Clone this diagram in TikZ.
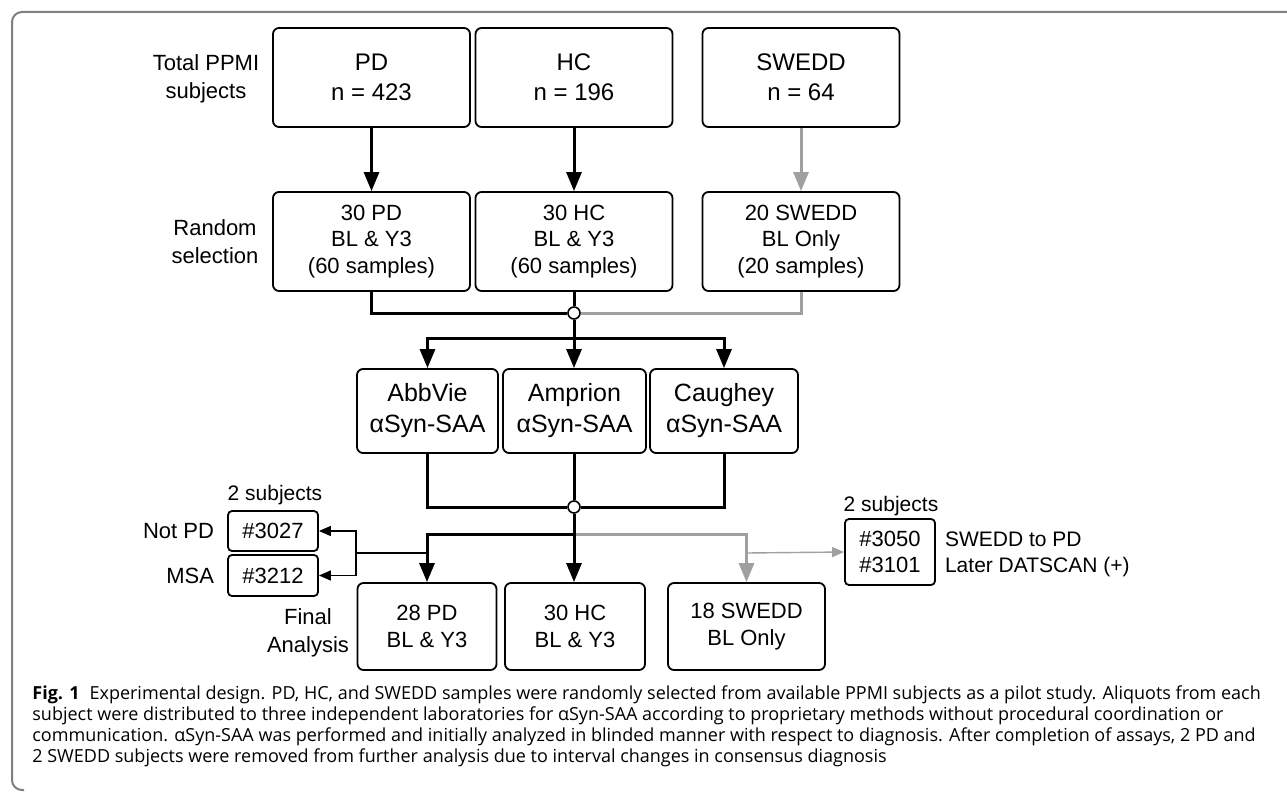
\documentclass[tikz,border=0pt]{standalone}
\usepackage{fontspec}
\setmainfont{Liberation Sans}
\newfontfamily\capfont{Open Sans}
\usepackage{tikz}
\usetikzlibrary{arrows.meta}
\definecolor{linegray}{HTML}{A0A0A0}
\definecolor{framegray}{HTML}{7F7F7F}
\tikzset{
  box/.style={draw, rounded corners=3pt, line width=0.9pt, align=center, inner sep=0pt},
  topbox/.style={box, minimum width=98.5pt, minimum height=49.5pt,
    font=\fontsize{12pt}{15pt}\selectfont},
  selbox/.style={box, minimum width=98.5pt, minimum height=49.5pt,
    font=\fontsize{11pt}{13.3pt}\selectfont},
  labbox/.style={box, minimum height=42pt, font=\fontsize{12.5pt}{15.5pt}\selectfont},
  finbox/.style={box, minimum height=43.5pt, font=\fontsize{11pt}{13.5pt}\selectfont},
  idbox/.style={box, rounded corners=2pt, minimum width=45pt, font=\fontsize{11pt}{13pt}\selectfont},
  side/.style={align=center, font=\fontsize{11pt}{14pt}\selectfont},
  junction/.style={circle, draw, fill=white, line width=0.8pt, inner sep=0pt, minimum size=6pt},
  main/.style={line width=1.5pt},
  mainarrow/.style={main, -{Triangle[length=9.5pt,width=7.5pt]}},
  thin/.style={line width=0.7pt},
  thinarrow/.style={thin, -{Triangle[length=6pt,width=5pt]}}
}
\begin{document}
\begin{tikzpicture}[x=0.5pt, y=-0.5pt]
  \useasboundingbox (0,0) rectangle (1287,792);
  % frame round figure and caption
  \draw[framegray, line width=1pt, rounded corners=5pt]
    (1287,12) -- (12,12) -- (12,790) -- (24,790);

  % Total subjects
  \node[topbox] (pd) at (371.5,77.5) {PD\\n = 423};
  \node[topbox] (hc) at (574,77.5) {HC\\n = 196};
  \node[topbox] (swedd) at (801,77.5) {SWEDD\\n = 64};
  \node[side] (total) at (206,79) {Total PPMI\\subjects};

  % Random selection
  \node[selbox] (pdsel) at (371.5,241.5) {30 PD\\BL \& Y3\\(60 samples)};
  \node[selbox] (hcsel) at (574,241.5) {30 HC\\BL \& Y3\\(60 samples)};
  \node[selbox] (sweddsel) at (801,241.5) {20 SWEDD\\BL Only\\(20 samples)};
  \node[side] (random) at (215,241.5) {Random\\selection};

  \draw[mainarrow] (pd) -- (pdsel);
  \draw[mainarrow] (hc) -- (hcsel);
  \draw[mainarrow, linegray] (swedd) -- (sweddsel);

  % pooling of the samples
  \node[junction] (j1) at (574,313) {};
  \draw[main, linegray] (sweddsel.south) |- (j1.east);
  \draw[main] (pdsel.south) |- (j1.west);
  \draw[main] (hcsel.south) -- (j1.north);

  % Laboratories
  \node[labbox, minimum width=70.5pt] (abbvie) at (427.5,411) {AbbVie\\αSyn-SAA};
  \node[labbox, minimum width=71.5pt] (amprion) at (574.5,411) {Amprion\\αSyn-SAA};
  \node[labbox, minimum width=74pt] (caughey) at (724,411) {Caughey\\αSyn-SAA};

  \coordinate (split1) at (574,338);
  \draw[main] (j1.south) -- (split1);
  \draw[mainarrow] (split1) -| (abbvie.north);
  \draw[mainarrow] (split1) -| (caughey.north);
  \draw[mainarrow] (split1) -- (split1 |- amprion.north);

  \node[junction] (j2) at (574,507) {};
  \draw[main] (abbvie.south) |- (j2.west);
  \draw[main] (caughey.south) |- (j2.east);
  \draw[main] (amprion.south -| j2) -- (j2.north);

  % Final analysis
  \node[finbox, minimum width=69.5pt] (pdfin) at (427,626.5) {28 PD\\BL \& Y3};
  \node[finbox, minimum width=70pt] (hcfin) at (575,626.5) {30 HC\\BL \& Y3};
  \node[finbox, minimum width=78.5pt] (sweddfin) at (746.5,626.5) {18 SWEDD\\BL Only};
  \node[side] (final) at (308,633) {Final\\Analysis};

  \coordinate (split2) at (574,534);
  \draw[mainarrow, linegray] (split2) -| (sweddfin.north);
  \draw[main] (j2.south) -- (split2);
  \draw[mainarrow] (split2) -| (pdfin.north);
  \draw[mainarrow] (split2) -- (split2 |- hcfin.north);

  % removed subjects
  \node[idbox, minimum height=20pt] (id3027) at (273,531) {\#3027};
  \node[idbox, minimum height=20.5pt] (id3212) at (273,575.5) {\#3212};
  \node[side, font=\fontsize{10.5pt}{13pt}\selectfont] (subjL) at (275,495) {2 subjects};
  \node[side, anchor=east] (notpd) at (221,531) {Not PD};
  \node[side, anchor=east] (msa) at (221,576) {MSA};

  \coordinate (tapL) at (427,553);
  \coordinate (forkL) at (356,553);
  \draw[thin] (tapL) -- (forkL);
  \draw[thinarrow] (forkL) |- (id3027.east);
  \draw[thinarrow] (forkL) |- (id3212.east);

  \node[idbox, minimum height=33pt] (id3050) at (890,552) {\#3050\\\#3101};
  \node[side, font=\fontsize{10.5pt}{13pt}\selectfont] (subjR) at (891,506) {2 subjects};
  \node[anchor=west, align=left, font=\fontsize{10.5pt}{13pt}\selectfont] (laterpd) at (938,554)
    {SWEDD to PD\\Later DATSCAN (+)};

  \coordinate (tapR) at (747,553);
  \draw[thinarrow, linegray] (tapR) -- (id3050.west);

  % caption
  \node[anchor=north west, align=left, inner sep=0pt,
    font=\capfont\fontsize{9pt}{10.6pt}\selectfont] (caption) at (32,685)
    {\textbf{Fig. 1}\hspace{5pt}Experimental design. PD, HC, and SWEDD samples were randomly selected from available PPMI subjects as a pilot study. Aliquots from each\\
     subject were distributed to three independent laboratories for αSyn-SAA according to proprietary methods without procedural coordination or\\
     communication. αSyn-SAA was performed and initially analyzed in blinded manner with respect to diagnosis. After completion of assays, 2 PD and\\
     2 SWEDD subjects were removed from further analysis due to interval changes in consensus diagnosis};
\end{tikzpicture}
\end{document}
